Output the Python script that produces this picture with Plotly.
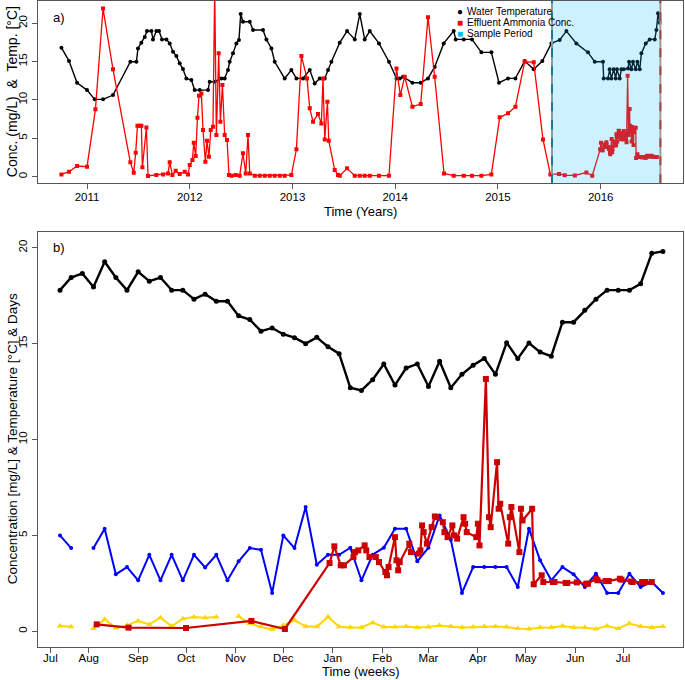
import plotly.graph_objects as go
import pandas as pd

# ---------------- Panel a data (decimal years) ----------------
a_temp_year = [2010.751, 2010.825, 2010.903, 2011.000, 2011.075, 2011.156, 2011.253, 2011.422, 2011.481, 2011.496,
               2011.529, 2011.562, 2011.584, 2011.627, 2011.642, 2011.675, 2011.701, 2011.730, 2011.773, 2011.805,
               2011.837, 2011.870, 2011.902, 2011.934, 2011.967, 2012.016, 2012.048, 2012.097, 2012.178, 2012.194,
               2012.243, 2012.308, 2012.340, 2012.372, 2012.389, 2012.421, 2012.454, 2012.479, 2012.496, 2012.518,
               2012.584, 2012.616, 2012.713, 2012.746, 2012.795, 2012.827, 2012.924, 2012.989, 2013.038, 2013.102,
               2013.168, 2013.216, 2013.265, 2013.314, 2013.346, 2013.379, 2013.460, 2013.531, 2013.606, 2013.655,
               2013.703, 2013.752, 2013.842, 2013.939, 2014.012, 2014.044, 2014.076, 2014.167, 2014.248, 2014.319,
               2014.384, 2014.472, 2014.569, 2014.589, 2014.667, 2014.747, 2014.839, 2014.936, 2015.010, 2015.098,
               2015.170, 2015.260, 2015.348, 2015.432, 2015.520, 2015.601, 2015.666, 2015.763, 2015.876, 2015.942,
               2016.022, 2016.029, 2016.071, 2016.087, 2016.104, 2016.126, 2016.146, 2016.158, 2016.185, 2016.201,
               2016.224, 2016.266, 2016.276, 2016.299, 2016.314, 2016.341, 2016.357, 2016.380, 2016.396, 2016.438,
               2016.477, 2016.526, 2016.542, 2016.558, 2016.574]
a_temp = [16.8, 15.06, 12.24, 11.28, 10.07, 10.07, 10.63, 14.97, 14.97, 16.7,
          17.45, 18.2, 18.97, 18.97, 17.88, 18.97, 18.97, 17.88, 17.88, 17.36,
          16.28, 15.71, 14.76, 14.02, 12.8, 12.59, 11.28, 11.28, 11.28, 12.37,
          12.37, 12.8, 12.8, 13.89, 14.97, 16.06, 17.36, 17.8, 21.18, 20.18,
          20.18, 19.1, 19.1, 17.88, 16.7, 14.97, 12.8, 13.89, 12.8, 12.8,
          13.89, 12.15, 12.8, 12.8, 13.89, 14.97, 17.45, 18.97, 17.88, 21.18,
          17.88, 18.97, 17.36, 14.97, 12.8, 12.8, 13.02, 12.24, 12.24, 12.8,
          14.3, 17.36, 18.97, 17.88, 17.88, 17.88, 16.19, 16.19, 12.24, 12.8,
          12.8, 15.06, 13.98, 15.06, 17.36, 17.8, 18.97, 17.36, 16.19, 14.97,
          14.97, 12.8, 12.8, 13.98, 12.8, 13.98, 12.8, 13.98, 12.8, 13.98,
          13.98, 14.1, 14.97, 13.98, 14.97, 13.98, 14.97, 13.98, 16.06, 17.36,
          17.88, 17.88, 19.1, 21.27, 20.05]

a_nh3_year = [2010.751, 2010.825, 2010.903, 2011.000, 2011.082, 2011.156, 2011.253, 2011.422, 2011.455, 2011.474,
              2011.491, 2011.513, 2011.529, 2011.539, 2011.578, 2011.594, 2011.675, 2011.740, 2011.788, 2011.805,
              2011.831, 2011.863, 2011.902, 2011.951, 2011.983, 2012.000, 2012.026, 2012.039, 2012.058, 2012.075,
              2012.090, 2012.113, 2012.129, 2012.152, 2012.168, 2012.187, 2012.204, 2012.226, 2012.243, 2012.259,
              2012.282, 2012.298, 2012.318, 2012.340, 2012.363, 2012.382, 2012.408, 2012.447, 2012.486, 2012.518,
              2012.545, 2012.567, 2012.584, 2012.633, 2012.681, 2012.730, 2012.779, 2012.827, 2012.876, 2012.924,
              2012.989, 2013.038, 2013.087, 2013.141, 2013.168, 2013.200, 2013.248, 2013.281, 2013.297, 2013.314,
              2013.340, 2013.353, 2013.411, 2013.443, 2013.460, 2013.531, 2013.606, 2013.655, 2013.703, 2013.752,
              2013.842, 2013.939, 2014.012, 2014.050, 2014.092, 2014.167, 2014.248, 2014.319, 2014.384, 2014.475,
              2014.569, 2014.667, 2014.747, 2014.839, 2014.936, 2015.017, 2015.098, 2015.170, 2015.260, 2015.348,
              2015.438, 2015.510]
a_nh3 = [0.3, 0.65, 1.39, 1.3, 8.77, 21.9, 13.98, 1.87, 0.52, 3.13,
         6.64, 6.64, 6.64, 1.22, 6.42, 0.09, 0.22, 0.3, 0.43, 1.87,
         0.22, 0.78, 0.35, 0.65, 0.3, 1.52, 2.17, 4.43, 2.69, 7.68,
         10.55, 10.85, 6.08, 1.95, 4.69, 2.6, 6.08, 6.51, 24.5, 5.43,
         16.06, 7.16, 11.94, 5.43, 4.77, 0.22, 0.13, 0.22, 0.13, 3.04,
         0.43, 5.43, 0.43, 0.13, 0.13, 0.13, 0.13, 0.13, 0.13, 0.13,
         0.22, 3.56, 15.71, 12.8, 8.9, 7.16, 8.16, 6.94, 12.8, 4.86,
         9.77, 4.69, 0.87, 0.22, 0.13, 1.09, 0.13, 0.13, 0.13, 0.13,
         0.13, 0.13, 14.1, 10.63, 13.02, 9.11, 9.46, 20.75, 13.02, 0.43,
         0.13, 0.13, 0.13, 0.13, 0.3, 7.73, 8.25, 9.11, 14.97, 14.89,
         4.86, 0.3]

sample_start = 2015.526
sample_end = 2016.581
year_ticks = [2011, 2012, 2013, 2014, 2015, 2016]

# ---------------- Panel b data (weekly) ----------------
b_weeks = pd.date_range("2015-07-14", periods=55, freq="7D")
b_temp = [17.79, 18.45, 18.66, 17.95, 19.27, 18.45, 17.79, 18.75, 18.26, 18.45,
          17.79, 17.79, 17.32, 17.58, 17.21, 17.21, 16.45, 16.26, 15.65, 15.82,
          15.49, 15.31, 15.0, 15.33, 14.84, 14.48, 12.70, 12.56, 13.12, 13.94,
          12.84, 13.73, 13.94, 12.77, 14.08, 12.70, 13.40, 13.87, 14.23, 13.40,
          15.05, 14.22, 15.03, 14.56, 14.35, 16.12, 16.12, 16.74, 17.32, 17.79,
          17.79, 17.79, 18.12, 19.71, 19.81]
b_blue = [5.0, 4.34, None, 4.34, 5.35, 2.97, 3.35, 2.66, 3.99, 2.66,
          3.99, 2.66, 3.99, 3.33, 3.99, 2.66, 3.65, 4.34, 4.25, 2.0,
          5.0, 4.34, 6.48, 3.47, 3.99, 3.99, 4.36, 2.66, 3.99, 4.36,
          5.35, 5.35, 3.65, 4.36, 6.04, 4.77, 2.0, 3.35, 3.35, 3.35,
          3.35, 2.31, 5.35, 3.70, 2.66, 3.35, 2.97, 2.31, 3.0, 2.0,
          2.0, 3.0, 2.31, 2.57, 2.0]
b_yellow = [0.28, 0.23, None, 0.14, 0.63, 0.17, 0.31, 0.54, 0.36, 0.71,
            0.26, 0.66, 0.75, 0.71, 0.75, None, 0.78, 0.40, 0.23, 0.10,
            0.31, 0.57, 0.26, 0.23, 0.75, 0.23, 0.2, 0.2, 0.45, 0.22,
            0.22, 0.25, 0.2, 0.22, 0.3, 0.25, 0.2, 0.22, 0.25, 0.25,
            0.22, 0.15, 0.12, 0.2, 0.2, 0.28, 0.2, 0.2, 0.12, 0.28,
            0.15, 0.4, 0.25, 0.2, 0.25]

b_red_dates = ["2015-08-06", "2015-08-26", "2015-10-01", "2015-11-11", "2015-12-02", "2015-12-30",
               "2016-01-02", "2016-01-06", "2016-01-08", "2016-01-14", "2016-01-15", "2016-01-17",
               "2016-01-21", "2016-01-22", "2016-01-24", "2016-01-28", "2016-01-30", "2016-02-03",
               "2016-02-04", "2016-02-05", "2016-02-09", "2016-02-10", "2016-02-11", "2016-02-12",
               "2016-02-18", "2016-02-19", "2016-02-24", "2016-02-25", "2016-02-26", "2016-02-27",
               "2016-02-29", "2016-03-03", "2016-03-05", "2016-03-06", "2016-03-10", "2016-03-11",
               "2016-03-13", "2016-03-16", "2016-03-17", "2016-03-19", "2016-03-23", "2016-03-24",
               "2016-03-25", "2016-03-31", "2016-04-01", "2016-04-02", "2016-04-06", "2016-04-08",
               "2016-04-09", "2016-04-13", "2016-04-14", "2016-04-15", "2016-04-20", "2016-04-21",
               "2016-04-22", "2016-04-27", "2016-04-28", "2016-04-29", "2016-05-05", "2016-05-06",
               "2016-05-11", "2016-05-12", "2016-05-18", "2016-05-19", "2016-05-26", "2016-05-27",
               "2016-06-02", "2016-06-08", "2016-06-09", "2016-06-14", "2016-06-15", "2016-06-20",
               "2016-06-22", "2016-06-29", "2016-06-30", "2016-07-06", "2016-07-07", "2016-07-13",
               "2016-07-15", "2016-07-19"]
b_red = [0.36, 0.19, 0.17, 0.54, 0.12, 3.56,
         4.43, 3.44, 3.44, 3.87, 4.13, 4.22,
         4.48, 4.22, 3.87, 3.87, 3.61, 3.09,
         2.92, 3.35, 4.91, 3.70, 3.18, 3.61,
         4.57, 4.13, 4.05, 4.22, 5.52, 5.17,
         4.57, 5.43, 5.99, 5.95, 5.69, 5.17,
         4.91, 5.52, 5.00, 4.83, 5.95, 5.61,
         5.17, 4.91, 5.61, 4.48, 13.16, 5.95,
         5.43, 8.82, 6.39, 6.65, 4.57, 5.95,
         6.48, 4.13, 6.39, 5.78, 6.39, 2.45,
         2.92, 2.57, 2.57, 2.57, 2.52, 2.52,
         2.55, 2.48, 2.48, 2.74, 2.66, 2.62,
         2.62, 2.74, 2.69, 2.60, 2.57, 2.57,
         2.57, 2.57]

month_tick_dates = ["2015-07-08", "2015-08-01", "2015-09-01", "2015-10-01", "2015-11-01", "2015-12-01",
                    "2016-01-01", "2016-02-01", "2016-03-01", "2016-04-01", "2016-05-01", "2016-06-01",
                    "2016-07-01"]
month_tick_text = ["Jul", "Aug", "Sep", "Oct", "Nov", "Dec", "Jan", "Feb", "Mar", "Apr", "May", "Jun", "Jul"]

# sample-period ammonia in panel a comes from the panel b series
red_dt = pd.to_datetime(b_red_dates)
red_decimal = [d.year + (d.dayofyear - 1) / (366 if d.is_leap_year else 365) for d in red_dt]
a_nh3_year_all = a_nh3_year + red_decimal
a_nh3_all = a_nh3 + b_red

FONT = "Arial, Liberation Sans, sans-serif"
fig = go.Figure()

# Panel a
fig.add_trace(go.Scatter(x=a_temp_year, y=a_temp, mode="lines+markers", name="Water Temperature",
                         line=dict(color="black", width=1.4), marker=dict(symbol="circle", size=4, color="black"),
                         xaxis="x", yaxis="y", showlegend=False))
fig.add_trace(go.Scatter(x=a_nh3_year_all, y=a_nh3_all, mode="lines+markers", name="Effluent Ammonia Conc.",
                         line=dict(color="#FF0000", width=1.3), marker=dict(symbol="square", size=4, color="#FF0000"),
                         xaxis="x", yaxis="y", showlegend=False))

# Panel b
fig.add_trace(go.Scatter(x=b_weeks, y=b_temp, mode="lines+markers", name="Temperature",
                         line=dict(color="black", width=2.4), marker=dict(symbol="circle", size=5, color="black"),
                         xaxis="x2", yaxis="y2", showlegend=False))
fig.add_trace(go.Scatter(x=b_weeks, y=b_blue, mode="lines+markers", name="Series blue",
                         line=dict(color="#0000FF", width=2), marker=dict(symbol="circle", size=4, color="#0000FF"),
                         xaxis="x2", yaxis="y2", showlegend=False, connectgaps=False))
fig.add_trace(go.Scatter(x=b_weeks, y=b_yellow, mode="lines+markers", name="Series yellow",
                         line=dict(color="#FFD700", width=2), marker=dict(symbol="triangle-up", size=6, color="#FFD700"),
                         xaxis="x2", yaxis="y2", showlegend=False, connectgaps=False))
fig.add_trace(go.Scatter(x=b_red_dates, y=b_red, mode="lines+markers", name="Ammonia",
                         line=dict(color="#CC0000", width=2.2), marker=dict(symbol="square", size=6, color="#CC0000"),
                         xaxis="x2", yaxis="y2", showlegend=False))

axis_common = dict(showline=True, mirror=True, linecolor="#555", linewidth=1, ticks="outside", ticklen=5,
                   tickcolor="#555", showgrid=False, zeroline=False, automargin=False,
                   tickfont=dict(family=FONT, size=11.5, color="black"))

ya_bottom = 0.7178
yb_top = 0.6429

fig.update_layout(
    width=685, height=680,
    margin=dict(l=38, r=2, t=1, b=33, autoexpand=False),
    paper_bgcolor="white", plot_bgcolor="white",
    font=dict(family=FONT, color="black"),
    xaxis=dict(domain=[0, 1], anchor="y", range=[2010.523, 2016.801], tickvals=year_ticks,
               ticktext=[str(v) for v in year_ticks], ticklabelstandoff=-2, **axis_common),
    yaxis=dict(domain=[ya_bottom, 1], anchor="x", range=[-0.86, 22.88], tickvals=[0, 5, 10, 15, 20],
               tickangle=-90, **axis_common),
    xaxis2=dict(domain=[0, 1], anchor="y2", type="date", range=["2015-06-30 05:00", "2016-08-07 14:00"],
                tickvals=month_tick_dates, ticktext=month_tick_text, ticklabelstandoff=-5, **axis_common),
    yaxis2=dict(domain=[0, yb_top], anchor="x2", range=[-0.82, 20.84], tickvals=[0, 5, 10, 15, 20],
                tickangle=-90, **axis_common),
)

# Sample period overlay
fig.add_shape(type="rect", xref="x", yref="y", x0=sample_start, x1=sample_end, y0=-0.86, y1=22.88,
              fillcolor="#00BFFF", opacity=0.2, line=dict(width=0), layer="above")
fig.add_shape(type="line", xref="x", yref="y", x0=sample_start, x1=sample_start, y0=-0.86, y1=22.88,
              line=dict(color="#8a9aa0", width=2), layer="above")
fig.add_shape(type="line", xref="x", yref="y", x0=sample_start, x1=sample_start, y0=-0.86, y1=22.88,
              line=dict(color="#0E7A9A", width=2, dash="dash"), layer="above")
fig.add_shape(type="line", xref="x", yref="y", x0=sample_end, x1=sample_end, y0=-0.86, y1=22.88,
              line=dict(color="#a09898", width=2), layer="above")
fig.add_shape(type="line", xref="x", yref="y", x0=sample_end, x1=sample_end, y0=-0.86, y1=22.88,
              line=dict(color="#9A4A4A", width=2, dash="dash"), layer="above")

ann = []
# panel labels
ann.append(dict(text="a)", xref="paper", yref="paper", x=0, y=1, xshift=21, yshift=-16,
                showarrow=False, font=dict(size=13, family=FONT), xanchor="center", yanchor="middle"))
ann.append(dict(text="b)", xref="paper", yref="paper", x=0, y=yb_top, xshift=21, yshift=-16,
                showarrow=False, font=dict(size=13, family=FONT), xanchor="center", yanchor="middle"))
# axis titles
ann.append(dict(text="Time (Years)", xref="paper", yref="paper", x=0.5, y=ya_bottom, yshift=-28,
                showarrow=False, font=dict(size=13, family=FONT), xanchor="center", yanchor="middle"))
ann.append(dict(text="Time (weeks)", xref="paper", yref="paper", x=0.5, y=0, yshift=-24,
                showarrow=False, font=dict(size=13, family=FONT), xanchor="center", yanchor="middle"))
ann.append(dict(text="Conc. (mg/L)  &  Temp. [°C]", xref="paper", yref="paper", x=0, xshift=-26,
                y=(ya_bottom + 1) / 2, textangle=-90, showarrow=False, font=dict(size=14, family=FONT),
                xanchor="center", yanchor="middle"))
ann.append(dict(text="Concentration [mg/L] & Temperature [°C] & Days", xref="paper", yref="paper", x=0, xshift=-26,
                y=yb_top / 2, textangle=-90, showarrow=False, font=dict(size=13.5, family=FONT),
                xanchor="center", yanchor="middle"))
# legend (panel a)
leg_x = (460 - 38) / 645
leg_items = [("●", "black", "Water Temperature", 11), ("■", "#FF0000", "Effluent Ammonia Conc.", 22.5),
             ("■", "#00BFFF", "Sample Period", 33.5)]
for sym, col, label, py in leg_items:
    ann.append(dict(text=sym, xref="paper", yref="paper", x=leg_x, y=1, yshift=-(py - 1),
                    showarrow=False, font=dict(size=10, color=col, family=FONT), xanchor="center", yanchor="middle"))
    ann.append(dict(text=label, xref="paper", yref="paper", x=leg_x, xshift=5, y=1, yshift=-(py - 1),
                    showarrow=False, font=dict(size=10, color="black", family=FONT), xanchor="left", yanchor="middle"))
fig.update_layout(annotations=ann)

fig.write_html("out.html", config={"displayModeBar": False},
               post_script="document.body.style.margin='0px';document.body.style.padding='0px';")
